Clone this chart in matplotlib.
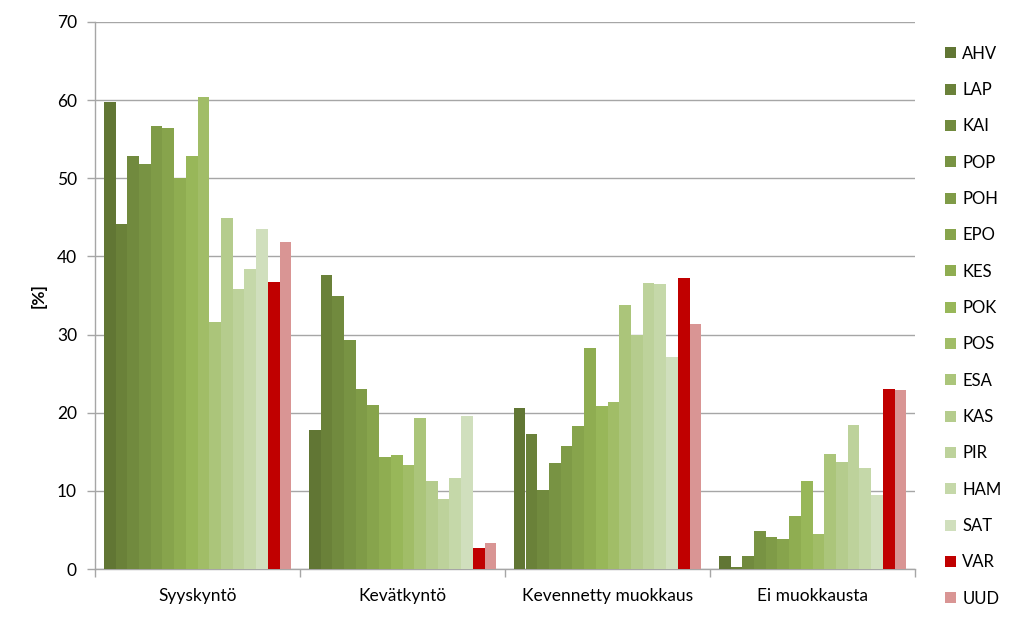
import matplotlib.pyplot as plt
from matplotlib.patches import Patch
import numpy as np

plt.rcParams["font.family"] = ["Lato", "DejaVu Sans"]

categories = ["Syyskyntö", "Kevätkyntö", "Kevennetty muokkaus", "Ei muokkausta"]
regions = ["AHV", "LAP", "KAI", "POP", "POH", "EPO", "KES", "POK",
           "POS", "ESA", "KAS", "PIR", "HAM", "SAT", "VAR", "UUD"]

# percent per region, one list per category
syyskynto = [59.7, 44.2, 52.9, 51.8, 56.7, 56.4, 50.1, 52.9,
             60.4, 31.6, 44.9, 35.8, 38.4, 43.5, 36.7, 41.9]
kevatkynto = [17.8, 37.6, 35.0, 29.3, 23.0, 21.0, 14.3, 14.6,
              13.3, 19.3, 11.2, 9.0, 11.6, 19.6, 2.7, 3.3]
kevennetty = [20.6, 17.3, 10.1, 13.6, 15.8, 18.3, 28.3, 20.9,
              21.4, 33.8, 29.9, 36.6, 36.5, 27.1, 37.3, 31.3]
ei_muokkausta = [1.6, 0.3, 1.6, 4.8, 4.1, 3.8, 6.8, 11.2,
                 4.5, 14.7, 13.7, 18.4, 12.9, 9.5, 23.0, 22.9]

COLORS = ["#617634", "#6a8139", "#718a3e", "#789343", "#7f9b47", "#87a44c",
          "#8fad51", "#98b759", "#a1bd67", "#abc57a", "#b5cc8d", "#bdd29b",
          "#c5d8a9", "#d0dfbd", "#c00000", "#d99594"]

data = np.array([syyskynto, kevatkynto, kevennetty, ei_muokkausta])

fig = plt.figure(figsize=(10.24, 6.2), dpi=100)
ax = fig.add_axes([95 / 1024, 51 / 620, 820 / 1024, 547 / 620])

n = len(regions)
width = 1.0 / (n + 1.5)
x = np.arange(len(categories))
for i, reg in enumerate(regions):
    ax.bar(x + (i - (n - 1) / 2) * width, data[:, i], width=width,
           color=COLORS[i], edgecolor="none", zorder=3)

ax.set_xlim(-0.5, len(categories) - 0.5)
ax.set_ylim(0, 70)
ax.set_yticks(range(0, 71, 10))
ax.grid(axis="y", color="#a6a6a6", linewidth=1.0, zorder=0)

ax.set_xticks(x, categories)
ax.set_xticks(np.arange(-0.5, len(categories)), minor=True)
ax.tick_params(axis="x", which="major", length=0, pad=14, labelsize=12.5, colors="#000000")
ax.tick_params(axis="x", which="minor", length=6, color="#a6a6a6", width=1.0)
ax.tick_params(axis="y", length=6, color="#a6a6a6", width=1.0, labelsize=12.5, pad=7)

for spine in ["top", "right"]:
    ax.spines[spine].set_visible(False)
for spine in ["left", "bottom"]:
    ax.spines[spine].set_color("#a6a6a6")
    ax.spines[spine].set_linewidth(1.0)

ax.set_ylabel("[%]", fontsize=12.5, fontweight="bold", labelpad=7)

handles = [Patch(facecolor=c, edgecolor="none", label=r) for c, r in zip(COLORS, regions)]
fig.legend(handles=handles, loc="upper left", bbox_to_anchor=(938 / 1024, 1 - 39 / 620),
           frameon=False, fontsize=12, handlelength=0.65, handleheight=0.65,
           handletextpad=0.4, labelspacing=1.22, borderaxespad=0)

fig.savefig("out.png", dpi=100)
